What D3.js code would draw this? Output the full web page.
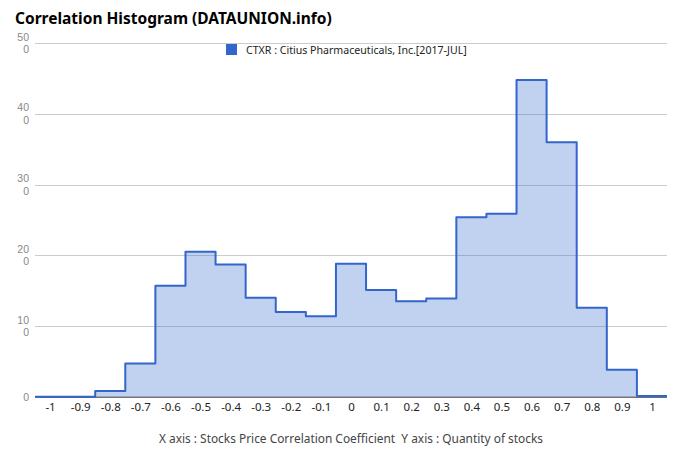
<!DOCTYPE html>
<html><head><meta charset="utf-8">
<script src="https://cdn.jsdelivr.net/npm/d3@7"></script>
<style>
body{margin:0;background:#fff;}
svg{display:block;font-family:"Noto Sans",sans-serif;}
</style></head>
<body>
<svg id="chart" width="680" height="462"></svg>
<script>
const bins = [-1,-0.9,-0.8,-0.7,-0.6,-0.5,-0.4,-0.3,-0.2,-0.1,0,0.1,0.2,0.3,0.4,0.5,0.6,0.7,0.8,0.9,1];
const counts = [0,0,8,47,157,205,187,140,120,114,188,151,135,139,254,259,448,360,126,38,1];
const xTickLabels = ["-1","-0.9","-0.8","-0.7","-0.6","-0.5","-0.4","-0.3","-0.2","-0.1","0","0.1","0.2","0.3","0.4","0.5","0.6","0.7","0.8","0.9","1"];
const yTicks = [0,100,200,300,400,500];
const seriesName = "CTXR : Citius Pharmaceuticals, Inc.[2017-JUL]";
const titleText = "Correlation Histogram (DATAUNION.info)";
const axisTitle = "X axis : Stocks Price Correlation Coefficient  Y axis : Quantity of stocks";

const svg = d3.select("#chart");
const L = 35, R = 667, T = 43.3, B = 396.7;
const half = 0.05;
const x = d3.scaleLinear().domain([bins[0]-half, bins[bins.length-1]+half]).range([L, R]);
const y = d3.scaleLinear().domain([0, 500]).range([B, T]);

// title
svg.append("text").attr("x", 15).attr("y", 24)
  .attr("font-size", 15.5).attr("font-weight", "bold").attr("fill", "#000")
  .text(titleText);

// gridlines
svg.append("g").selectAll("line").data(yTicks.filter(d => d > 0)).join("line")
  .attr("x1", L).attr("x2", R)
  .attr("y1", d => Math.round(y(d)) + 0.5).attr("y2", d => Math.round(y(d)) + 0.5)
  .attr("stroke", "#cccccc").attr("stroke-width", 1);

// y labels (wrapped like reference)
const yl = svg.append("g").attr("font-size", 10.5).attr("font-family", "'Liberation Sans',Arial,sans-serif")
  .attr("fill", "#888").attr("text-anchor", "end");
yTicks.forEach(v => {
  const s = String(v);
  const lines = s.length > 2 ? [s.slice(0, s.length - 1), s.slice(s.length - 1)] : [s];
  const lh = 12.6;
  const y0 = y(v) - (lines.length - 1) * lh / 2 + 3.8;
  lines.forEach((ln, i) => yl.append("text").attr("x", 29).attr("y", y0 + i * lh).text(ln));
});

// step data
const pts = bins.map((b, i) => [b - half, counts[i]]);
pts.push([bins[bins.length-1] + half, counts[counts.length-1]]);

const area = d3.area().curve(d3.curveStepAfter)
  .x(d => x(d[0])).y0(y(0)).y1(d => y(d[1]));
const line = d3.line().curve(d3.curveStepAfter)
  .x(d => x(d[0])).y(d => y(d[1]));

svg.append("path").datum(pts).attr("d", area).attr("fill", "#3366cc").attr("fill-opacity", 0.3);

// baseline
svg.append("line").attr("x1", L).attr("x2", R).attr("y1", B + 0.5).attr("y2", B + 0.5)
  .attr("stroke", "#333").attr("stroke-width", 1);

svg.append("path").datum(pts).attr("d", line).attr("fill", "none")
  .attr("stroke", "#3366cc").attr("stroke-width", 2).attr("stroke-linejoin", "round");

// x axis labels
const xa = svg.append("g").attr("transform", `translate(0,${B})`)
  .call(d3.axisBottom(x).tickValues(bins).tickSize(0).tickPadding(6)
    .tickFormat((d, i) => xTickLabels[i]));
xa.select(".domain").remove();
xa.selectAll("text").attr("font-family", "'Noto Sans',sans-serif").attr("font-size", 11.5).attr("fill", "#222");

// legend
svg.append("rect").attr("x", 226).attr("y", 44).attr("width", 11).attr("height", 11).attr("fill", "#3366cc");
svg.append("text").attr("x", 246).attr("y", 53.5).attr("font-size", 10.6).attr("fill", "#222").text(seriesName);

// axis title
svg.append("text").attr("x", 351).attr("y", 443).attr("text-anchor", "middle")
  .style("white-space", "pre")
  .attr("font-size", 11.9).attr("fill", "#444").text(axisTitle);
</script>
</body></html>
